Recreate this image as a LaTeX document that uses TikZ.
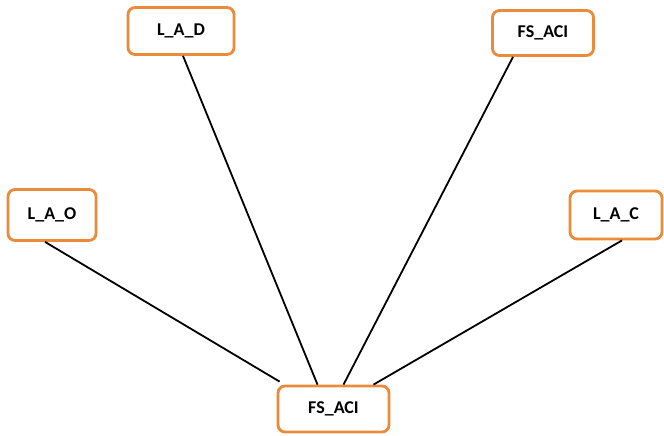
\documentclass[tikz,border=0pt]{standalone}
\usepackage{fontspec}
\setmainfont{Carlito}
\definecolor{boxedge}{HTML}{E98B3A}
\begin{document}
\begin{tikzpicture}[x=1pt,y=-1pt,
  box/.style={draw=boxedge, line width=2.8pt, rounded corners=7pt, fill=white,
    font=\fontsize{18}{21}\selectfont\bfseries, inner sep=0pt, align=center},
  link/.style={draw=black, line width=1.8pt}]
  \useasboundingbox (0,0) rectangle (664,436);
  \node[box, minimum width=106pt, minimum height=47pt] (lad) at (181,31) {L\_A\_D};
  \node[box, minimum width=101pt, minimum height=45pt] (fst) at (543,33) {FS\_ACI};
  \node[box, minimum width=88pt, minimum height=51pt] (lao) at (52,215) {L\_A\_O};
  \node[box, minimum width=92pt, minimum height=48pt] (lac) at (616,215) {L\_A\_C};
  \node[box, minimum width=111pt, minimum height=46pt] (fsb) at (333.5,409) {FS\_ACI};
  \draw[link] ([xshift=2pt]lad.south) -- ([xshift=-16pt]fsb.north);
  \draw[link] ([xshift=-30pt]fst.south) -- ([xshift=10pt]fsb.north);
  \draw[link] ([xshift=-7pt]lao.south) -- ([xshift=3pt,yshift=3pt]fsb.north west);
  \draw[link] ([xshift=6pt]lac.south) -- ([xshift=40pt]fsb.north);
\end{tikzpicture}
\end{document}
